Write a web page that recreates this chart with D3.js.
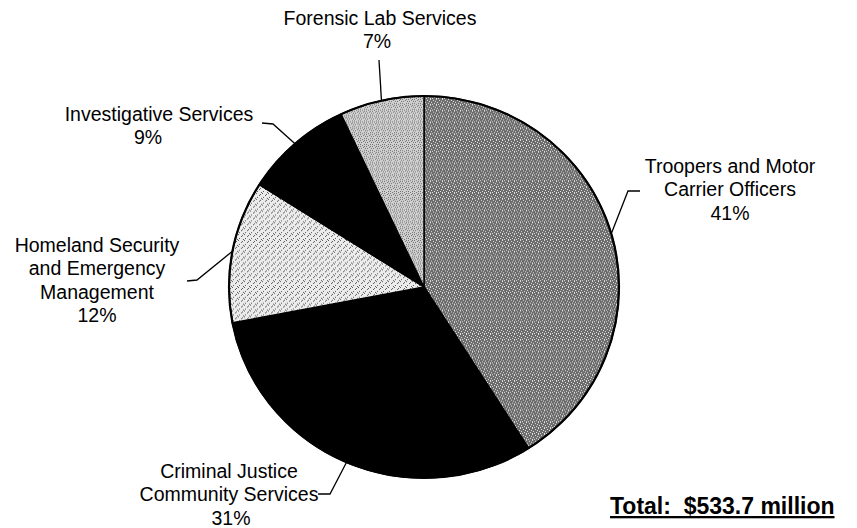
<!DOCTYPE html>
<html lang="en">
<head>
<meta charset="utf-8">
<title>Budget by program</title>
<script src="https://d3js.org/d3.v7.min.js"></script>
<style>
  body { margin: 0; background: #fff; }
  svg text { font-family: "Liberation Sans", Arial, sans-serif; fill: #000; }
</style>
</head>
<body>
<div id="chart"></div>
<script>
// data, clockwise from 12 o'clock
var categories = ["Troopers and Motor Carrier Officers", "Criminal Justice Community Services",
                  "Homeland Security and Emergency Management", "Investigative Services", "Forensic Lab Services"];
var shares = [41, 31, 12, 9, 7];
var totalLabel = "Total:  $533.7 million";

// label lines as printed (line breaks of the original)
var labelLines = [
  ["Troopers and Motor", "Carrier Officers"],
  ["Criminal Justice", "Community Services"],
  ["Homeland Security", "and Emergency", "Management"],
  ["Investigative Services"],
  ["Forensic Lab Services"]
];

// layout for the label boxes and the leader elbows
var labelPos = [
  {x: 730, y: 173, pctX: 730, elbow: [628, 191], tail: [640, 191]},
  {x: 229, y: 478, pctX: 231, elbow: [330, 494], tail: [318, 494]},
  {x: 97,  y: 252, pctX: 97,  elbow: [197, 280], tail: [187, 281]},
  {x: 159, y: 121, pctX: 148, elbow: [273, 124], tail: [262, 123]},
  {x: 380, y: 25,  pctX: 377, elbow: [379, 60],  tail: [379, 60]}
];

var W = 857, H = 528;
var cx = 424, cy = 287, rx = 195, ry = 191;
var lineH = 23.3;

var svg = d3.select("#chart").append("svg")
    .attr("width", W).attr("height", H);

// stipple patterns imitating the printed fills
var defs = svg.append("defs");
function stipple(id, bg, dot, pts, size) {
  var p = defs.append("pattern").attr("id", id)
      .attr("patternUnits", "userSpaceOnUse")
      .attr("width", size).attr("height", size);
  p.append("rect").attr("width", size).attr("height", size).attr("fill", bg);
  pts.forEach(function(q) {
    p.append("rect").attr("x", q[0]).attr("y", q[1]).attr("width", 1).attr("height", 1).attr("fill", dot);
  });
}
stipple("pTroop", "#6c6c6c", "#e0e0e0", [[0,0],[3,1],[1,3],[4,4],[2,5],[5,2],[0,5]], 6);
stipple("pHome", "#ececec", "#5a5a5a", [[0,0],[3,2],[1,4],[5,5],[4,1]], 6);
stipple("pForen", "#d0d0d0", "#707070", [[0,0],[2,0],[1,2],[3,2],[0,4],[2,4],[5,1],[4,5]], 6);
var fills = ["url(#pTroop)", "#000", "url(#pHome)", "#000", "url(#pForen)"];

var pie = d3.pie().sort(null).value(function(d) { return d; });
var arcs = pie(shares);
var arc = d3.arc().innerRadius(0).outerRadius(rx);

var g = svg.append("g")
    .attr("transform", "translate(" + cx + "," + cy + ") scale(1," + (ry / rx) + ")");

g.selectAll("path")
  .data(arcs)
  .enter().append("path")
    .attr("d", arc)
    .attr("fill", function(d, i) { return fills[i]; })
    .attr("stroke", "#000")
    .attr("stroke-width", 1.5)
    .attr("stroke-linejoin", "round");

// outer rim a bit heavier, like the scan
svg.append("ellipse")
    .attr("cx", cx).attr("cy", cy).attr("rx", rx).attr("ry", ry)
    .attr("fill", "none").attr("stroke", "#000").attr("stroke-width", 2.2);

// leader lines: from the rim at the slice middle to the label
arcs.forEach(function(d, i) {
  var a = (d.startAngle + d.endAngle) / 2;
  var px = cx + rx * Math.sin(a), py = cy - ry * Math.cos(a);
  var lp = labelPos[i];
  svg.append("polyline")
      .attr("points", [[px, py], lp.elbow, lp.tail].map(function(p) { return p.join(","); }).join(" "))
      .attr("fill", "none")
      .attr("stroke", "#000")
      .attr("stroke-width", 1.3);
});

// labels
labelLines.forEach(function(lines, i) {
  var lp = labelPos[i];
  var t = svg.append("text")
      .attr("text-anchor", "middle")
      .style("font-size", "19.5px");
  lines.forEach(function(s, k) {
    t.append("tspan").attr("x", lp.x).attr("y", lp.y + k * lineH).text(s);
  });
  t.append("tspan").attr("x", lp.pctX).attr("y", lp.y + lines.length * lineH).text(shares[i] + "%");
});

// total
svg.append("text")
    .attr("x", 610).attr("y", 514)
    .style("font-size", "23px")
    .style("font-weight", "bold")
    .style("text-decoration", "underline")
    .style("white-space", "pre")
    .text(totalLabel);
</script>
</body>
</html>
